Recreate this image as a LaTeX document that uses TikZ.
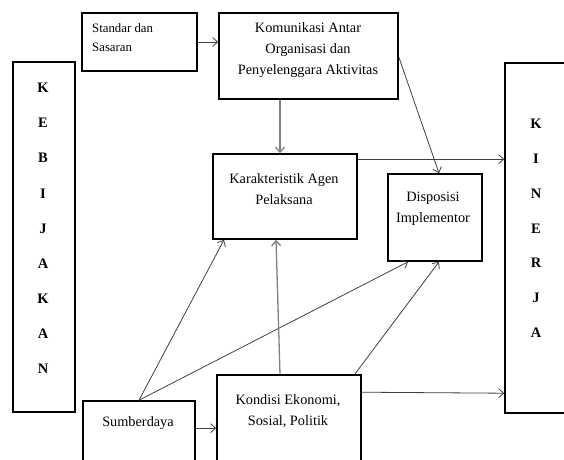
\documentclass[tikz,border=0pt]{standalone}
\usepackage{fontspec}
\setmainfont{Liberation Serif}
\usetikzlibrary{arrows.meta}

\begin{document}
\begin{tikzpicture}[x=1pt,y=-1pt,
  kotak/.style={draw,line width=1.6pt,minimum width=#1,inner sep=0pt},
  teks/.style={align=center,inner sep=0pt,font=\fontsize{14.3}{21}\selectfont},
  huruf/.style={inner sep=0pt,font=\fontsize{14.5}{17}\selectfont\bfseries},
  panah/.style={draw=black!75,line width=0.8pt,-{Straight Barb[length=5pt,width=9pt]}},
  panahabu/.style={draw=black!50,line width=1.3pt,-{Straight Barb[length=5pt,width=9pt]}}]

\clip (0,0) rectangle (564,459);

\node [kotak=115pt,minimum height=58pt] (std) at (139.5,42) {};
\node [kotak=179pt,minimum height=86pt] (kom) at (308.5,56) {};
\node [kotak=62pt,minimum height=350pt] (keb) at (44,237) {};
\node [kotak=144pt,minimum height=85pt] (kar) at (285,196.5) {};
\node [kotak=94pt,minimum height=87pt] (dis) at (435,217.5) {};
\node [kotak=80pt,minimum height=350pt] (kin) at (545,238) {};
\node [kotak=112pt,minimum height=79pt] (sum) at (139,440.5) {};
\node [kotak=144pt,minimum height=105pt] (kon) at (289,427.5) {};

\node [teks,align=left,anchor=west,font=\fontsize{12.8}{19}\selectfont] (std-t) at (92,37.5) {Standar dan\\Sasaran};
\node [teks] (kom-t) at (308,50) {Komunikasi Antar\\Organisasi dan\\Penyelenggara Aktivitas};
\node [teks] (kar-t) at (284,189) {Karakteristik Agen\\Pelaksana};
\node [teks] (dis-t) at (433,209) {Disposisi\\Implementor};
\node [teks] (kon-t) at (288,411.5) {Kondisi Ekonomi,\\Sosial, Politik};
\node [teks] (sum-t) at (138,423) {Sumberdaya};

\foreach \l [count=\i] in {K,E,B,I,J,A,K,A,N}
  \node [huruf] (keb-\i) at (43,52.9+35.1*\i) {\l};
\foreach \l [count=\i] in {K,I,N,E,R,J,A}
  \node [huruf] (kin-\i) at (536,89.2+34.8*\i) {\l};

\draw [panah] (std.east) -- (kom.west |- std.east);
\draw [panahabu] ([xshift=-28.5pt]kom.south) -- ([xshift=-5pt]kar.north);
\draw [panah] ([yshift=-1pt]kom.east) -- ([xshift=4pt]dis.north);
\draw [panah] ([yshift=-6pt]kar.north east) -- ([yshift=-6pt]kar.north east -| kin.west);
\draw [panah] (sum.north) -- ([xshift=-61pt]kar.south);
\draw [panah] (sum.north) -- ([xshift=-27pt]dis.south);
\draw [panahabu] ([xshift=-9pt]kon.north) -- ([xshift=-9pt]kar.south);
\draw [panah] ([xshift=-7pt]kon.north east) -- ([xshift=4pt]dis.south);
\draw [panah] ([yshift=-18pt]kon.north east) -- ([yshift=-19pt]kon.north east -| kin.west);
\draw [panah] ([yshift=-28pt]sum.north east) -- ([yshift=-28pt]sum.north east -| kon.west);

\end{tikzpicture}
\end{document}
